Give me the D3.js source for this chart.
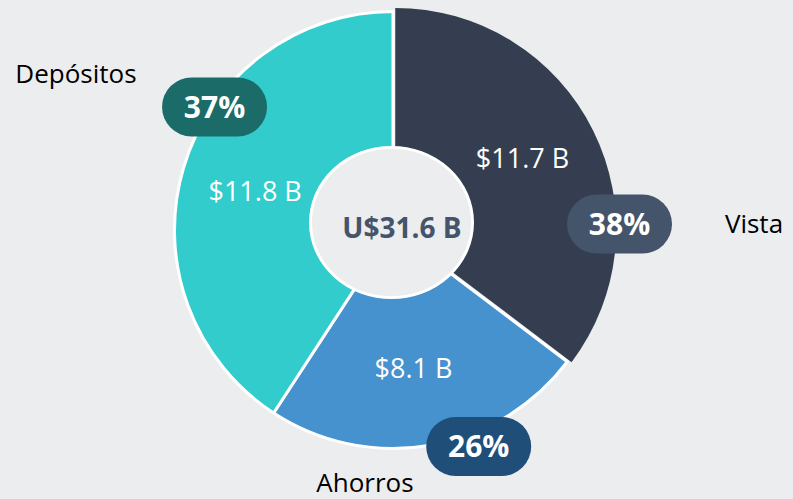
<!DOCTYPE html>
<html>
<head>
<meta charset="utf-8">
<script src="https://cdn.jsdelivr.net/npm/d3@7"></script>
<style>
  html, body { margin: 0; padding: 0; background: #ecedef; }
  svg { display: block; }
  text { font-family: "Open Sans", "Noto Sans", sans-serif; }
</style>
</head>
<body>
<svg id="chart" width="793" height="499"></svg>
<script>
// ---- data ----
const categories   = ["Vista", "Ahorros", "Depósitos"];
const values       = [11.7, 8.1, 11.8];          // US$ billions, as labelled
const percents     = [38, 26, 37];                // percentages, as labelled
const sliceShares  = [35.3, 23.9, 40.8];          // angular share of each drawn slice (%)
const totalLabel   = "U$31.6 B";

// ---- styles / layout ----
const sliceColors = ["#343e50", "#4592cf", "#33cccc"];
const pillColors  = ["#44546a", "#1f4e79", "#1b6b68"];
const bg = "#ecedef";
const W = 793, H = 499;
const cx = 393, cy = 230;
const R = 220;

const svg = d3.select("#chart");
svg.append("rect").attr("width", W).attr("height", H).attr("fill", bg);

const data = categories.map((c, i) => ({
  cat: c, value: values[i], pct: percents[i], share: sliceShares[i], i
}));

const pie = d3.pie().sort(null).value(d => d.share).startAngle(0).endAngle(2 * Math.PI);
const arcs = pie(data);

const g = svg.append("g").attr("transform", `translate(${cx},${cy})`);

const arcMain = d3.arc().innerRadius(0).outerRadius(R - 1.5);
const arcBig  = d3.arc().innerRadius(0).outerRadius(R + 1);

// First slice (Vista) is slightly pulled out, no border
const first = arcs[0];
const mid0 = (first.startAngle + first.endAngle) / 2;
const off = 2.5;
g.append("path")
  .attr("d", arcBig(first))
  .attr("transform", `translate(${off * Math.sin(mid0)},${-off * Math.cos(mid0)})`)
  .attr("fill", sliceColors[0]);

g.selectAll("path.slice")
  .data(arcs.slice(1))
  .join("path")
  .attr("class", "slice")
  .attr("d", arcMain)
  .attr("fill", d => sliceColors[d.data.i])
  .attr("stroke", "#ffffff")
  .attr("stroke-width", 3)
  .attr("stroke-linejoin", "round");

// centre hole
svg.append("ellipse")
  .attr("cx", cx - 1.5).attr("cy", cy - 7.5)
  .attr("rx", 81).attr("ry", 75)
  .attr("fill", bg)
  .attr("stroke", "#ffffff")
  .attr("stroke-width", 3);

svg.append("text")
  .attr("x", cx + 9).attr("y", cy + 8)
  .attr("text-anchor", "middle")
  .attr("font-size", 28).attr("font-weight", 700)
  .attr("fill", "#44546a")
  .text(totalLabel);

// value labels inside slices
const labelArc = d3.arc().innerRadius(148).outerRadius(148);
const valueNudge = [[-3, -6], [-5, -8], [4, 3]];
g.selectAll("text.val")
  .data(arcs)
  .join("text")
  .attr("class", "val")
  .attr("x", d => labelArc.centroid(d)[0] + valueNudge[d.data.i][0])
  .attr("y", d => labelArc.centroid(d)[1] + valueNudge[d.data.i][1] + 10)
  .attr("text-anchor", "middle")
  .attr("font-size", 27)
  .attr("fill", "#ffffff")
  .text(d => `$${d3.format(".1f")(d.data.value)} B`);

// percentage pills
const pillAngles = [88.5, 158.4, 304.6];   // degrees clockwise from north
const pillRadii  = [226.6, 232.8, 216.8];
const pillW = 105, pillH = 59;
const pills = g.selectAll("g.pill")
  .data(data)
  .join("g")
  .attr("class", "pill")
  .attr("transform", d => {
    const a = pillAngles[d.i] * Math.PI / 180, r = pillRadii[d.i];
    return `translate(${r * Math.sin(a)},${-r * Math.cos(a)})`;
  });
pills.append("rect")
  .attr("x", -pillW / 2).attr("y", -pillH / 2)
  .attr("width", pillW).attr("height", pillH)
  .attr("rx", pillH / 2).attr("ry", pillH / 2)
  .attr("fill", d => pillColors[d.i]);
pills.append("text")
  .attr("text-anchor", "middle")
  .attr("y", 11)
  .attr("font-size", 30).attr("font-weight", 700)
  .attr("fill", "#ffffff")
  .text(d => `${d.pct}%`);

// category labels
const catPos = [
  { x: 754, y: 233, anchor: "middle" },
  { x: 365, y: 492, anchor: "middle" },
  { x: 76,  y: 83,  anchor: "middle" }
];
svg.selectAll("text.cat")
  .data(data)
  .join("text")
  .attr("class", "cat")
  .attr("x", d => catPos[d.i].x)
  .attr("y", d => catPos[d.i].y)
  .attr("text-anchor", d => catPos[d.i].anchor)
  .attr("font-size", 26)
  .attr("fill", "#000000")
  .text(d => d.cat);
</script>
</body>
</html>
